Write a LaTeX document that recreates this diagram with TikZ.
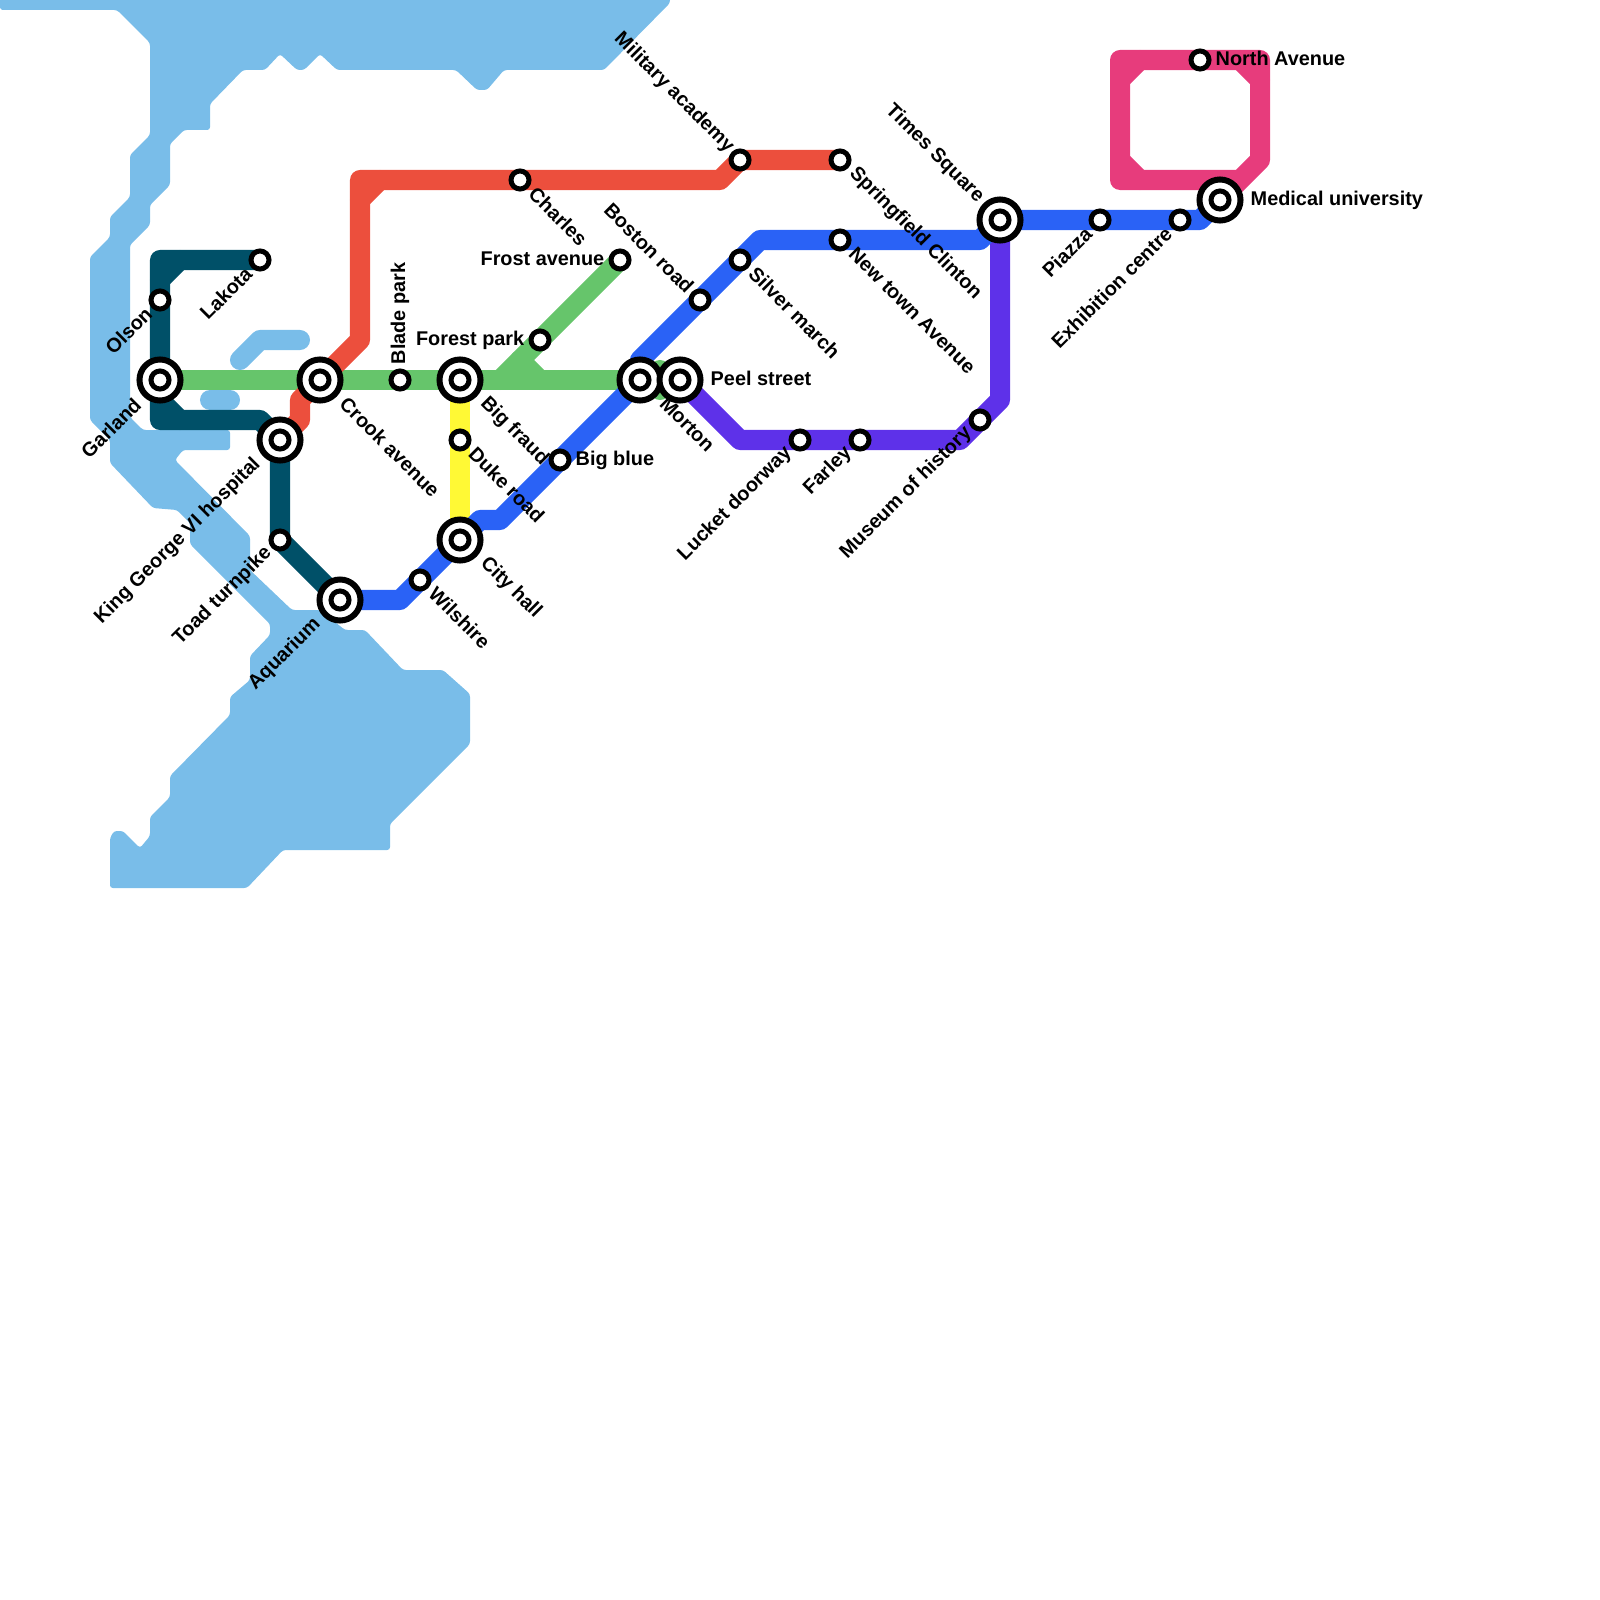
\documentclass[tikz,border=0pt]{standalone}
\usepackage{fontspec}
\setmainfont{Liberation Sans}
\usetikzlibrary{backgrounds}
\definecolor{watercol}{HTML}{79BDE9}
\definecolor{tealcol}{HTML}{005068}
\definecolor{greencol}{HTML}{66C56B}
\definecolor{redcol}{HTML}{EC4F3D}
\definecolor{bluecol}{HTML}{2A62F6}
\definecolor{purplecol}{HTML}{5E31E9}
\definecolor{yellowcol}{HTML}{FFF935}
\definecolor{pinkcol}{HTML}{E73C7C}
\tikzset{
  metroline/.style={line width=0.2cm, line join=round, line cap=round, draw=#1},
  waterstroke/.style={line width=0.2cm, line join=round, line cap=round, draw=watercol},
  stnsmall/.style={
    circle, draw=black, fill=white, line width=0.05cm,
    minimum size=0.18cm, inner sep=0pt
  },
  stnbig/.style={
    circle, draw=black, fill=white, line width=0.06cm,
    minimum size=0.41cm, inner sep=0pt
  },
  lbl/.style={
    inner sep=0pt, text=black,
    font=\fontsize{5.65pt}{6.5pt}\selectfont\bfseries
  },
  lblse/.style={lbl, rotate=-45, anchor=west},
  lblnw/.style={lbl, rotate=-45, anchor=east},
  lblsw/.style={lbl, rotate=45, anchor=east},
  lblup/.style={lbl, rotate=90, anchor=west},
  lblright/.style={lbl, anchor=west},
  lblleft/.style={lbl, anchor=east},
}
\begin{document}
\begin{tikzpicture}[x=0.01cm, y=-0.01cm]
  \useasboundingbox (0,0) rectangle (1600,1600);

  % stations
  \node[stnbig](garland) at (160,380){};
  \node[stnsmall](garlandc) at (160,380){};
  \node[stnsmall](olson) at (160,300){};
  \node[stnsmall](lakota) at (260,260){};
  \node[stnbig](kinggeorge) at (280,440){};
  \node[stnsmall](kinggeorgec) at (280,440){};
  \node[stnsmall](toad) at (280,540){};
  \node[stnbig](aquarium) at (340,600){};
  \node[stnsmall](aquariumc) at (340,600){};
  \node[stnbig](crook) at (320,380){};
  \node[stnsmall](crookc) at (320,380){};
  \node[stnsmall](blade) at (400,380){};
  \node[stnsmall](wilshire) at (420,580){};
  \node[stnbig](bigfraud) at (460,380){};
  \node[stnsmall](bigfraudc) at (460,380){};
  \node[stnsmall](duke) at (460,440){};
  \node[stnbig](cityhall) at (460,540){};
  \node[stnsmall](cityhallc) at (460,540){};
  \node[stnsmall](charles) at (520,180){};
  \node[stnsmall](forest) at (540,340){};
  \node[stnsmall](bigblue) at (560,460){};
  \node[stnsmall](frost) at (620,260){};
  \node[stnbig](morton) at (640,380){};
  \node[stnsmall](mortonc) at (640,380){};
  \node[stnbig](peel) at (680,380){};
  \node[stnsmall](peelc) at (680,380){};
  \node[stnsmall](boston) at (700,300){};
  \node[stnsmall](silver) at (740,260){};
  \node[stnsmall](military) at (740,160){};
  \node[stnsmall](lucket) at (800,440){};
  \node[stnsmall](springfield) at (840,160){};
  \node[stnsmall](newtown) at (840,240){};
  \node[stnsmall](farley) at (860,440){};
  \node[stnsmall](museum) at (980,420){};
  \node[stnbig](times) at (1000,220){};
  \node[stnsmall](timesc) at (1000,220){};
  \node[stnsmall](piazza) at (1100,220){};
  \node[stnsmall](exhibition) at (1180,220){};
  \node[stnsmall](north) at (1200,60){};
  \node[stnbig](medical) at (1220,200){};
  \node[stnsmall](medicalc) at (1220,200){};

  % corners of the lines
  \coordinate (tealtop) at (160,260);
  \coordinate (tealbot) at (160,420);
  \coordinate (tealmid) at (260,420);
  \coordinate (tealcuta) at (180,260);
  \coordinate (tealcutb) at (160,280);
  \coordinate (tealcutc) at (160,400);
  \coordinate (tealcutd) at (180,420);
  \coordinate (redend) at (300,420);
  \coordinate (redbend) at (300,400);
  \coordinate (redlow) at (360,340);
  \coordinate (redtop) at (360,180);
  \coordinate (redup) at (720,180);
  \coordinate (redcuta) at (360,200);
  \coordinate (redcutb) at (380,180);
  \coordinate (blueaq) at (400,600);
  \coordinate (bluea) at (480,520);
  \coordinate (blueb) at (500,520);
  \coordinate (bluem) at (640,360);
  \coordinate (bluec) at (760,240);
  \coordinate (blued) at (980,240);
  \coordinate (bluee) at (1200,220);
  \coordinate (purpa) at (1000,400);
  \coordinate (purpb) at (960,440);
  \coordinate (purpc) at (740,440);
  \coordinate (greenj) at (500,380);
  \coordinate (greencuta) at (520,360);
  \coordinate (greencutb) at (540,380);
  \coordinate (greenup) at (660,370);
  \coordinate (greendn) at (660,390);
  \coordinate (pinka) at (1240,180);
  \coordinate (pinkb) at (1120,180);
  \coordinate (pinkc) at (1120,60);
  \coordinate (pinkd) at (1260,60);
  \coordinate (pinke) at (1260,160);
  \coordinate (pinkcuta) at (1120,80);
  \coordinate (pinkcutb) at (1140,60);
  \coordinate (pinkcutc) at (1240,60);
  \coordinate (pinkcutd) at (1260,80);
  \coordinate (pinkcute) at (1120,160);
  \coordinate (pinkcutf) at (1140,180);
  \coordinate (wateraa) at (240,360);
  \coordinate (waterab) at (260,340);
  \coordinate (waterac) at (300,340);
  \coordinate (waterba) at (210,400);
  \coordinate (waterbb) at (230,400);

  \begin{scope}[on background layer]
    % water
    \fill[watercol, rounded corners=0.8pt]
      (0,-5)--(670,-5)--(670,3)--(604,70)--(504,70)--(487,90)--(477,90)--(456,70)
      --(337,70)--(320,54)--(304,70)--(297,70)--(280,54)--(265,70)--(243,70)
      --(210,104)--(210,130)--(184,130)--(170,144)--(170,185)--(150,205)--(150,225)
      --(130,245)--(130,417)--(143,430)--(230,430)--(230,450)--(183,450)--(175,460)
      --(250,536)--(250,570)--(292,610)--(320,610)--(345,630)--(365,630)--(403,670)
      --(443,670)--(470,694)--(470,744)--(390,824)--(390,850)--(283,850)--(247,888)
      --(110,888)--(110,838)--(114,831)--(123,831)--(140,848)--(150,836)--(150,817)
      --(170,797)--(170,776)--(230,715)--(230,697)--(250,680)--(250,656)--(270,635)
      --(270,624)--(190,544)--(190,523)--(177,510)--(153,508)--(110,463)--(110,440)
      --(90,420)--(90,257)--(110,237)--(110,217)--(130,197)--(130,155)--(150,135)
      --(150,43)--(117,10)--(0,10)--cycle;
    \draw[waterstroke](wateraa)--(waterab)--(waterac);
    \draw[waterstroke](waterba)--(waterbb);
    % lines
    \draw[metroline=greencol](garland.center)--(peel.center);
    \draw[metroline=greencol](frost.center)--(greenj);
    \draw[metroline=greencol](greencuta)--(greencutb);
    \draw[metroline=greencol](greenup)--(greendn);
    \draw[metroline=yellowcol](bigfraud.center)--(cityhall.center);
    \draw[metroline=tealcol](lakota.center)--(tealtop)--(tealbot)--(tealmid)
      --(kinggeorge.center)--(toad.center)--(aquarium.center);
    \draw[metroline=tealcol](tealcuta)--(tealcutb);
    \draw[metroline=tealcol](tealcutc)--(tealcutd);
    \draw[metroline=redcol](springfield.center)--(military.center)--(redup)--(redtop)
      --(redlow)--(redbend)--(redend)--(kinggeorge.center);
    \draw[metroline=redcol](redcuta)--(redcutb);
    \draw[metroline=purplecol](times.center)--(purpa)--(purpb)--(purpc)--(peel.center);
    \draw[metroline=bluecol](aquarium.center)--(blueaq)--(bluea)--(blueb)--(morton.center)
      --(bluem)--(bluec)--(blued)--(times.center)--(bluee)--(medical.center);
    \draw[metroline=pinkcol](medical.center)--(pinka)--(pinkb)--(pinkc)--(pinkd)
      --(pinke)--(pinka);
    \draw[metroline=pinkcol](pinkcuta)--(pinkcutb);
    \draw[metroline=pinkcol](pinkcutc)--(pinkcutd);
    \draw[metroline=pinkcol](pinkcute)--(pinkcutf);
  \end{scope}

  % labels
  \node[lblsw](lbgarland) at ([shift={(-22,21)}]garland.center){Garland};
  \node[lblsw](lbolson) at ([shift={(-11,10)}]olson.center){Olson};
  \node[lblsw](lblakota) at ([shift={(-11,10)}]lakota.center){Lakota};
  \node[lblsw](lbking) at ([shift={(-22,21)}]kinggeorge.center){King George VI hospital};
  \node[lblsw](lbtoad) at ([shift={(-11,10)}]toad.center){Toad turnpike};
  \node[lblsw](lbaquarium) at ([shift={(-22,21)}]aquarium.center){Aquarium};
  \node[lblse](lbcrook) at ([shift={(23,20)}]crook.center){Crook avenue};
  \node[lblse](lbfraud) at ([shift={(23,20)}]bigfraud.center){Big fraud};
  \node[lblse](lbduke) at ([shift={(12,10)}]duke.center){Duke road};
  \node[lblse](lbcity) at ([shift={(23,20)}]cityhall.center){City hall};
  \node[lblse](lbwilshire) at ([shift={(12,10)}]wilshire.center){Wilshire};
  \node[lblse](lbcharles) at ([shift={(12,10)}]charles.center){Charles};
  \node[lblse](lbmorton) at ([shift={(23,20)}]morton.center){Morton};
  \node[lblse](lbsilver) at ([shift={(12,10)}]silver.center){Silver march};
  \node[lblse](lbspring) at ([shift={(12,10)}]springfield.center){Springfield Clinton};
  \node[lblse](lbnewtown) at ([shift={(12,10)}]newtown.center){New town Avenue};
  \node[lblup](lbblade) at ([yshift=0.15cm]blade.center){Blade park};
  \node[lblleft](lbfrost) at ([xshift=-0.15cm,yshift=0.01cm]frost.center){Frost avenue};
  \node[lblleft](lbforest) at ([xshift=-0.15cm]forest.center){Forest park};
  \node[lblright](lbblue) at ([xshift=0.15cm]bigblue.center){Big blue};
  \node[lblright](lbpeel) at ([xshift=0.3cm,yshift=0.02cm]peel.center){Peel street};
  \node[lblnw](lbmilitary) at ([shift={(-9,-10)}]military.center){Military academy};
  \node[lblnw](lbboston) at ([shift={(-9,-10)}]boston.center){Boston road};
  \node[lblnw](lbtimes) at ([shift={(-19,-20)}]times.center){Times Square};
  \node[lblsw](lblucket) at ([shift={(-11,10)}]lucket.center){Lucket doorway};
  \node[lblsw](lbfarley) at ([shift={(-11,10)}]farley.center){Farley};
  \node[lblsw](lbmuseum) at ([shift={(-11,10)}]museum.center){Museum of history};
  \node[lblsw](lbpiazza) at ([shift={(-11,10)}]piazza.center){Piazza};
  \node[lblsw](lbexhibition) at ([shift={(-11,10)}]exhibition.center){Exhibition centre};
  \node[lblright](lbnorth) at ([xshift=0.15cm,yshift=0.02cm]north.center){North Avenue};
  \node[lblright](lbmedical) at ([xshift=0.3cm]medical.center){Medical university};
\end{tikzpicture}
\end{document}
